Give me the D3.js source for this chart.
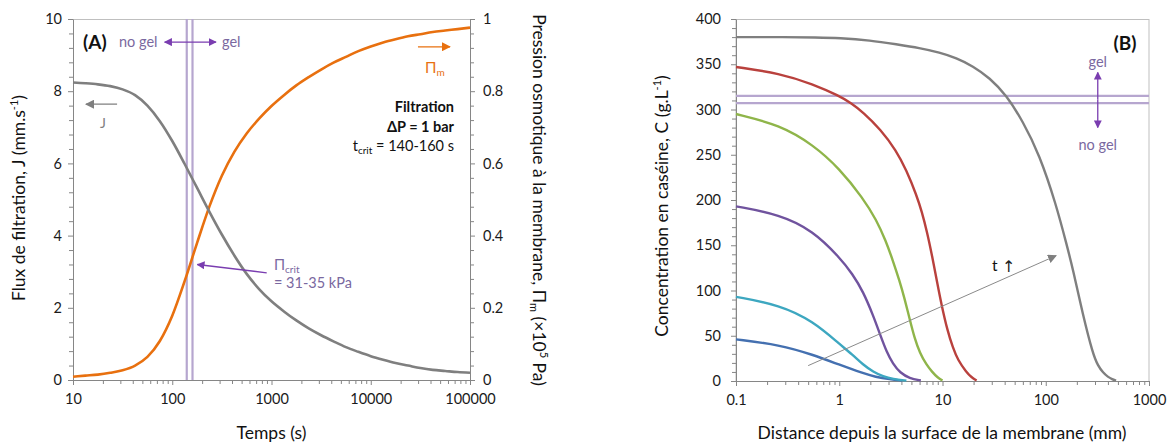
<!DOCTYPE html>
<html>
<head>
<meta charset="utf-8">
<script src="https://cdn.jsdelivr.net/npm/d3@7"></script>
<style>
  body { margin: 0; background: #fff; }
  svg { display: block; }
  text { font-family: Lato, "Open Sans", "DejaVu Sans", sans-serif; }
</style>
</head>
<body>
<svg id="chart" width="1172" height="443"></svg>
<script>
// ---- Panel A: permeate flux and membrane osmotic pressure vs filtration time ----
const timeS = [10, 13.3, 17.8, 23.7, 31.6, 42.2, 56.2, 75, 100, 133, 178, 237, 316, 422, 562, 750,
               1000, 1334, 1778, 2371, 3162, 4217, 5623, 7499, 10000, 13335, 17783, 23714, 31623,
               42170, 56234, 74989, 100000];
const fluxJ = [8.24, 8.22, 8.19, 8.14, 8.05, 7.89, 7.60, 7.17, 6.62, 5.99, 5.32, 4.66, 4.03, 3.45, 2.94, 2.52,
               2.18, 1.90, 1.65, 1.43, 1.24, 1.07, 0.91, 0.78, 0.66, 0.56, 0.47, 0.40, 0.33,
               0.28, 0.25, 0.22, 0.20];
const piM = [0.009, 0.012, 0.015, 0.020, 0.027, 0.040, 0.064, 0.108, 0.178, 0.273, 0.380, 0.481, 0.566, 0.632, 0.683, 0.724,
             0.759, 0.789, 0.816, 0.839, 0.860, 0.879, 0.895, 0.911, 0.924, 0.935, 0.944, 0.952, 0.958,
             0.964, 0.968, 0.972, 0.976];
const tCrit = [140, 160];
const timeTicks = [10, 100, 1000, 10000, 100000];
const fluxTicks = [0, 2, 4, 6, 8, 10];
const piTicks = [0, 0.2, 0.4, 0.6, 0.8, 1];

// ---- Panel B: casein concentration profiles at increasing times ----
const distBlue = [0.1, 0.266, 0.558, 1.0, 1.70, 2.24, 3.09, 4.07];
const concBlue = [46, 40, 29, 18, 8.5, 4.5, 1.8, 0.4];
const distTeal = [0.1, 0.266, 0.558, 1.0, 1.35, 1.70, 2.14, 2.66, 3.31, 4.47];
const concTeal = [93, 84, 66, 41, 29, 18, 10, 5, 2.2, 0.4];
const distPurple = [0.1, 0.266, 0.558, 1.0, 1.35, 1.70, 2.14, 2.51, 2.88, 3.31, 3.89, 4.79, 6.17];
const concPurple = [193, 184, 166, 137, 118, 99, 72, 50, 32, 19, 9, 3, 0.5];
const distGreen = [0.1, 0.266, 0.558, 1.0, 1.70, 2.29, 2.82, 3.31, 3.85, 4.27, 4.82, 5.37, 6.03, 6.98, 7.94, 8.91, 10];
const concGreen = [295, 283, 261, 235, 202, 178, 155, 133, 110, 92, 68, 47, 31, 18, 10, 4, 0.5];
const distRed = [0.1, 0.266, 0.558, 1.0, 1.31, 1.70, 2.51, 3.55, 4.47, 5.62, 6.31, 7.08, 7.94, 8.91, 9.75, 11.2, 12.6, 14.1, 17.0, 19.1, 21.4];
const concRed = [347, 340, 328, 315, 307, 297, 278, 255, 233, 205, 187, 165, 138, 108, 85, 55, 37, 23, 10, 4, 0.5];
const distGray = [0.1, 0.3, 0.6, 1, 2, 3.6, 6, 9.4, 13.6, 19.7, 28.6, 41.5, 60, 87, 126, 160, 183, 229, 286, 320, 360, 400, 440, 480];
const concGray = [380, 380, 379.5, 379, 376.5, 372, 368, 363, 357, 348, 335, 316, 287, 250, 195, 150, 124, 73, 30, 17, 9, 4.5, 2, 0.5];
const gelConc = [307, 315];
const distTicks = [0.1, 1, 10, 100, 1000];
const concTicks = [0, 50, 100, 150, 200, 250, 300, 350, 400];

const profiles = [
  { d: distBlue, c: concBlue, color: "#4470B0" },
  { d: distTeal, c: concTeal, color: "#3DA7C0" },
  { d: distPurple, c: concPurple, color: "#70539E" },
  { d: distGreen, c: concGreen, color: "#8FB54A" },
  { d: distRed, c: concRed, color: "#B9413D" },
  { d: distGray, c: concGray, color: "#7F7F7F" }
];

const AXIS = "#868686";
const FRAME = "#BFBFBF";
const GELLINE = "#B6A6CF";
const ANNOT = "#7A68A0";
const ARROWP = "#7A3DB0";
const ORANGE = "#E8700F";
const GRAY = "#7F7F7F";
const TITLE = 17.5;
const TICK = 14.5;

const svg = d3.select("#chart");

// arrowhead markers
const defs = svg.append("defs");
function marker(id, color, size) {
  defs.append("marker")
    .attr("id", id).attr("viewBox", "0 0 10 10")
    .attr("refX", 9).attr("refY", 5)
    .attr("markerWidth", size).attr("markerHeight", size)
    .attr("markerUnits", "userSpaceOnUse")
    .attr("orient", "auto-start-reverse")
    .append("path").attr("d", "M0,0 L10,5 L0,10 z").attr("fill", color);
}
marker("mPurple", ARROWP, 8);
marker("mGray", GRAY, 9);
marker("mOrange", ORANGE, 9);

function logMinors(lo, hi) {
  const out = [];
  for (let e = Math.log10(lo); e < Math.log10(hi) - 1e-9; e++) {
    for (let k = 2; k <= 9; k++) out.push(k * Math.pow(10, e));
  }
  return out;
}
function linMinors(lo, hi, step, majorStep) {
  const out = [];
  for (let v = lo; v <= hi + 1e-9; v += step) {
    const r = v / majorStep;
    if (Math.abs(r - Math.round(r)) > 1e-6) out.push(+v.toFixed(6));
  }
  return out;
}
function styleAxis(g, fontSize) {
  g.select(".domain").attr("stroke", AXIS).attr("stroke-width", 1);
  g.selectAll(".tick line").attr("stroke", AXIS).attr("stroke-width", 1);
  g.selectAll(".tick text").attr("fill", "#1a1a1a")
    .style("font-size", fontSize + "px").style("font-family", "Lato, 'Open Sans', sans-serif");
}

// ================= Panel A =================
const xA = d3.scaleLog().domain([10, 100000]).range([73, 470]);
const yJ = d3.scaleLinear().domain([0, 10]).range([380, 19]);
const yPi = d3.scaleLinear().domain([0, 1]).range([380, 19]);
const gA = svg.append("g");

// top frame line
gA.append("line").attr("x1", xA.range()[0]).attr("x2", xA.range()[1])
  .attr("y1", yJ(10) + 0.5).attr("y2", yJ(10) + 0.5).attr("stroke", FRAME);

// minor ticks
gA.append("g").attr("transform", `translate(0,${yJ(0)})`)
  .call(d3.axisBottom(xA).tickValues(logMinors(10, 100000)).tickFormat("").tickSize(4).tickSizeOuter(0))
  .call(g => { styleAxis(g, TICK); g.select(".domain").remove(); });
gA.append("g").attr("transform", `translate(${xA(10)},0)`)
  .call(d3.axisLeft(yJ).tickValues(linMinors(0, 10, 0.4, 2)).tickFormat("").tickSize(4).tickSizeOuter(0))
  .call(g => { styleAxis(g, TICK); g.select(".domain").remove(); });
gA.append("g").attr("transform", `translate(${xA(100000)},0)`)
  .call(d3.axisRight(yPi).tickValues(linMinors(0, 1, 0.04, 0.2)).tickFormat("").tickSize(4).tickSizeOuter(0))
  .call(g => { styleAxis(g, TICK); g.select(".domain").remove(); });

// major axes
gA.append("g").attr("transform", `translate(0,${yJ(0)})`)
  .call(d3.axisBottom(xA).tickValues(timeTicks).tickFormat(d3.format("d")).tickSize(5).tickSizeOuter(0).tickPadding(9))
  .call(g => styleAxis(g, TICK));
gA.append("g").attr("transform", `translate(${xA(10)},0)`)
  .call(d3.axisLeft(yJ).tickValues(fluxTicks).tickFormat(d3.format("d")).tickSize(5).tickSizeOuter(0).tickPadding(6))
  .call(g => styleAxis(g, TICK));
gA.append("g").attr("transform", `translate(${xA(100000)},0)`)
  .call(d3.axisRight(yPi).tickValues(piTicks).tickFormat(d => d === 0 || d === 1 ? d3.format("d")(d) : d3.format(".1f")(d)).tickSize(5).tickSizeOuter(0).tickPadding(8))
  .call(g => styleAxis(g, TICK));

// critical time band
gA.selectAll(".tcrit").data(tCrit).join("line")
  .attr("x1", d => xA(d)).attr("x2", d => xA(d))
  .attr("y1", yJ(0)).attr("y2", yJ(10))
  .attr("stroke", GELLINE).attr("stroke-width", 2.2);

// curves
const lineJ = d3.line().x((d, i) => xA(timeS[i])).y(d => yJ(d)).curve(d3.curveMonotoneX);
const linePi = d3.line().x((d, i) => xA(timeS[i])).y(d => yPi(d)).curve(d3.curveMonotoneX);
gA.append("path").attr("d", linePi(piM)).attr("fill", "none").attr("stroke", ORANGE).attr("stroke-width", 2.6);
gA.append("path").attr("d", lineJ(fluxJ)).attr("fill", "none").attr("stroke", GRAY).attr("stroke-width", 2.6);

// annotations panel A
gA.append("text").attr("x", 83).attr("y", 49).attr("font-weight", "bold").attr("font-size", 19).attr("fill", "#111").text("(A)");
gA.append("text").attr("x", 119).attr("y", 47).attr("font-size", 14.5).attr("fill", ANNOT).text("no gel");
gA.append("text").attr("x", 222).attr("y", 47).attr("font-size", 14.5).attr("fill", ANNOT).text("gel");
gA.append("line").attr("x1", xA(84)).attr("x2", xA(276)).attr("y1", yJ(9.36)).attr("y2", yJ(9.36))
  .attr("stroke", ARROWP).attr("stroke-width", 1.3)
  .attr("marker-start", "url(#mPurple)").attr("marker-end", "url(#mPurple)");

// J arrow (left axis)
gA.append("line").attr("x1", xA(27.8)).attr("x2", xA(13.5)).attr("y1", yJ(7.64)).attr("y2", yJ(7.64))
  .attr("stroke", GRAY).attr("stroke-width", 1.3).attr("marker-end", "url(#mGray)");
gA.append("text").attr("x", 103).attr("y", 128).attr("font-size", 14).attr("fill", GRAY).attr("text-anchor", "middle").text("J");

// Pi_m arrow (right axis)
gA.append("line").attr("x1", xA(29900)).attr("x2", xA(62800)).attr("y1", yPi(0.923)).attr("y2", yPi(0.923))
  .attr("stroke", ORANGE).attr("stroke-width", 1.3).attr("marker-end", "url(#mOrange)");
const tPm = gA.append("text").attr("x", 425).attr("y", 73).attr("font-size", 15).attr("fill", ORANGE);
tPm.append("tspan").text("Π");
tPm.append("tspan").attr("font-size", 10).attr("dy", 3).text("m");

// filtration conditions
gA.append("text").attr("x", 454).attr("y", 112).attr("text-anchor", "end").attr("font-size", 14.5).attr("font-weight", "bold").attr("fill", "#111").text("Filtration");
gA.append("text").attr("x", 454).attr("y", 132).attr("text-anchor", "end").attr("font-size", 14.5).attr("font-weight", "bold").attr("fill", "#111").text("ΔP = 1 bar");
const tc = gA.append("text").attr("x", 454).attr("y", 151).attr("text-anchor", "end").attr("font-size", 14.5).attr("fill", "#111");
tc.append("tspan").text("t");
tc.append("tspan").attr("font-size", 10).attr("dy", 3).text("crit");
tc.append("tspan").attr("dy", -3).text(" = 140-160 s");

// Pi_crit annotation
gA.append("line").attr("x1", xA(895)).attr("x2", xA(179)).attr("y1", yJ(2.97)).attr("y2", yJ(3.2))
  .attr("stroke", ARROWP).attr("stroke-width", 1.3).attr("marker-end", "url(#mPurple)");
const pc = gA.append("text").attr("x", 274).attr("y", 270).attr("font-size", 14.5).attr("fill", ANNOT);
pc.append("tspan").text("Π");
pc.append("tspan").attr("font-size", 10).attr("dy", 3).text("crit");
gA.append("text").attr("x", 274).attr("y", 288).attr("font-size", 14.5).attr("fill", ANNOT).text("= 31-35 kPa");

// axis titles panel A
gA.append("text").attr("x", xA(1000)).attr("y", 439).attr("text-anchor", "middle").attr("font-size", TITLE).attr("fill", "#111").text("Temps (s)");
const tl = gA.append("text").attr("transform", "translate(25,198) rotate(-90)").attr("text-anchor", "middle").attr("font-size", TITLE).attr("fill", "#111");
tl.append("tspan").text("Flux de filtration, J (mm.s");
tl.append("tspan").attr("font-size", 11).attr("dy", -7).text("-1");
tl.append("tspan").attr("dy", 7).text(")");
const tr = gA.append("text").attr("transform", "translate(533,200) rotate(90)").attr("text-anchor", "middle").attr("font-size", TITLE).attr("fill", "#111");
tr.append("tspan").text("Pression osmotique à la membrane, Π");
tr.append("tspan").attr("font-size", 11).attr("dy", 3).text("m");
tr.append("tspan").attr("dy", -3).text(" (×10");
tr.append("tspan").attr("font-size", 11).attr("dy", -7).text("5");
tr.append("tspan").attr("dy", 7).text(" Pa)");

// ================= Panel B =================
const xB = d3.scaleLog().domain([0.1, 1000]).range([736, 1149]);
const yB = d3.scaleLinear().domain([0, 400]).range([381, 19]);
const gB = svg.append("g");

// frame
gB.append("rect").attr("x", xB(0.1)).attr("y", yB(400) + 0.5)
  .attr("width", xB(1000) - xB(0.1)).attr("height", yB(0) - yB(400))
  .attr("fill", "none").attr("stroke", FRAME);

gB.append("g").attr("transform", `translate(0,${yB(0)})`)
  .call(d3.axisBottom(xB).tickValues(logMinors(0.1, 1000)).tickFormat("").tickSize(4).tickSizeOuter(0))
  .call(g => { styleAxis(g, TICK); g.select(".domain").remove(); });
gB.append("g").attr("transform", `translate(${xB(0.1)},0)`)
  .call(d3.axisLeft(yB).tickValues(linMinors(0, 400, 10, 50)).tickFormat("").tickSize(4).tickSizeOuter(0))
  .call(g => { styleAxis(g, TICK); g.select(".domain").remove(); });
gB.append("g").attr("transform", `translate(0,${yB(0)})`)
  .call(d3.axisBottom(xB).tickValues(distTicks).tickFormat(d => d === 0.1 ? "0.1" : d3.format("d")(d)).tickSize(5).tickSizeOuter(0).tickPadding(9))
  .call(g => styleAxis(g, TICK));
gB.append("g").attr("transform", `translate(${xB(0.1)},0)`)
  .call(d3.axisLeft(yB).tickValues(concTicks).tickFormat(d3.format("d")).tickSize(5).tickSizeOuter(0).tickPadding(10))
  .call(g => styleAxis(g, TICK));

// gel threshold lines
gB.selectAll(".gel").data(gelConc).join("line")
  .attr("x1", xB(0.1)).attr("x2", xB(1000))
  .attr("y1", d => yB(d)).attr("y2", d => yB(d))
  .attr("stroke", GELLINE).attr("stroke-width", 2.2);

// concentration profiles
profiles.forEach(p => {
  const ln = d3.line().x((v, i) => xB(p.d[i])).y(v => yB(v)).curve(d3.curveBasis);
  gB.append("path").attr("d", ln(p.c)).attr("fill", "none").attr("stroke", p.color).attr("stroke-width", 2.4);
});

// time arrow
gB.append("line").attr("x1", xB(0.5)).attr("y1", yB(17)).attr("x2", xB(126)).attr("y2", yB(138.5))
  .attr("stroke", "#8a8a8a").attr("stroke-width", 1).attr("marker-end", "url(#mGray)");
gB.append("text").attr("x", 992).attr("y", 271).attr("font-size", 15.5).attr("fill", "#111").text("t");
gB.append("text").attr("x", 1002).attr("y", 272).attr("font-size", 16).attr("fill", "#222")
  .style("font-family", "'DejaVu Sans', sans-serif").text("↑");

// gel / no gel annotation
gB.append("text").attr("x", 1125).attr("y", 50).attr("text-anchor", "middle").attr("font-weight", "bold").attr("font-size", 19).attr("fill", "#111").text("(B)");
gB.append("line").attr("x1", xB(319)).attr("x2", xB(319)).attr("y1", yB(311)).attr("y2", yB(341))
  .attr("stroke", ARROWP).attr("stroke-width", 1.3).attr("marker-end", "url(#mPurple)");
gB.append("line").attr("x1", xB(319)).attr("x2", xB(319)).attr("y1", yB(311)).attr("y2", yB(280))
  .attr("stroke", ARROWP).attr("stroke-width", 1.3).attr("marker-end", "url(#mPurple)");
gB.append("text").attr("x", xB(319)).attr("y", 67).attr("text-anchor", "middle").attr("font-size", 14.5).attr("fill", ANNOT).text("gel");
gB.append("text").attr("x", xB(319)).attr("y", 150).attr("text-anchor", "middle").attr("font-size", 14.5).attr("fill", ANNOT).text("no gel");

// axis titles panel B
gB.append("text").attr("x", 942).attr("y", 439).attr("text-anchor", "middle").attr("font-size", TITLE).attr("fill", "#111").text("Distance depuis la surface de la membrane (mm)");
const tb = gB.append("text").attr("transform", "translate(668,206) rotate(-90)").attr("text-anchor", "middle").attr("font-size", TITLE).attr("fill", "#111");
tb.append("tspan").text("Concentration en caséine, C (g.L");
tb.append("tspan").attr("font-size", 11).attr("dy", -7).text("-1");
tb.append("tspan").attr("dy", 7).text(")");
</script>
</body>
</html>
